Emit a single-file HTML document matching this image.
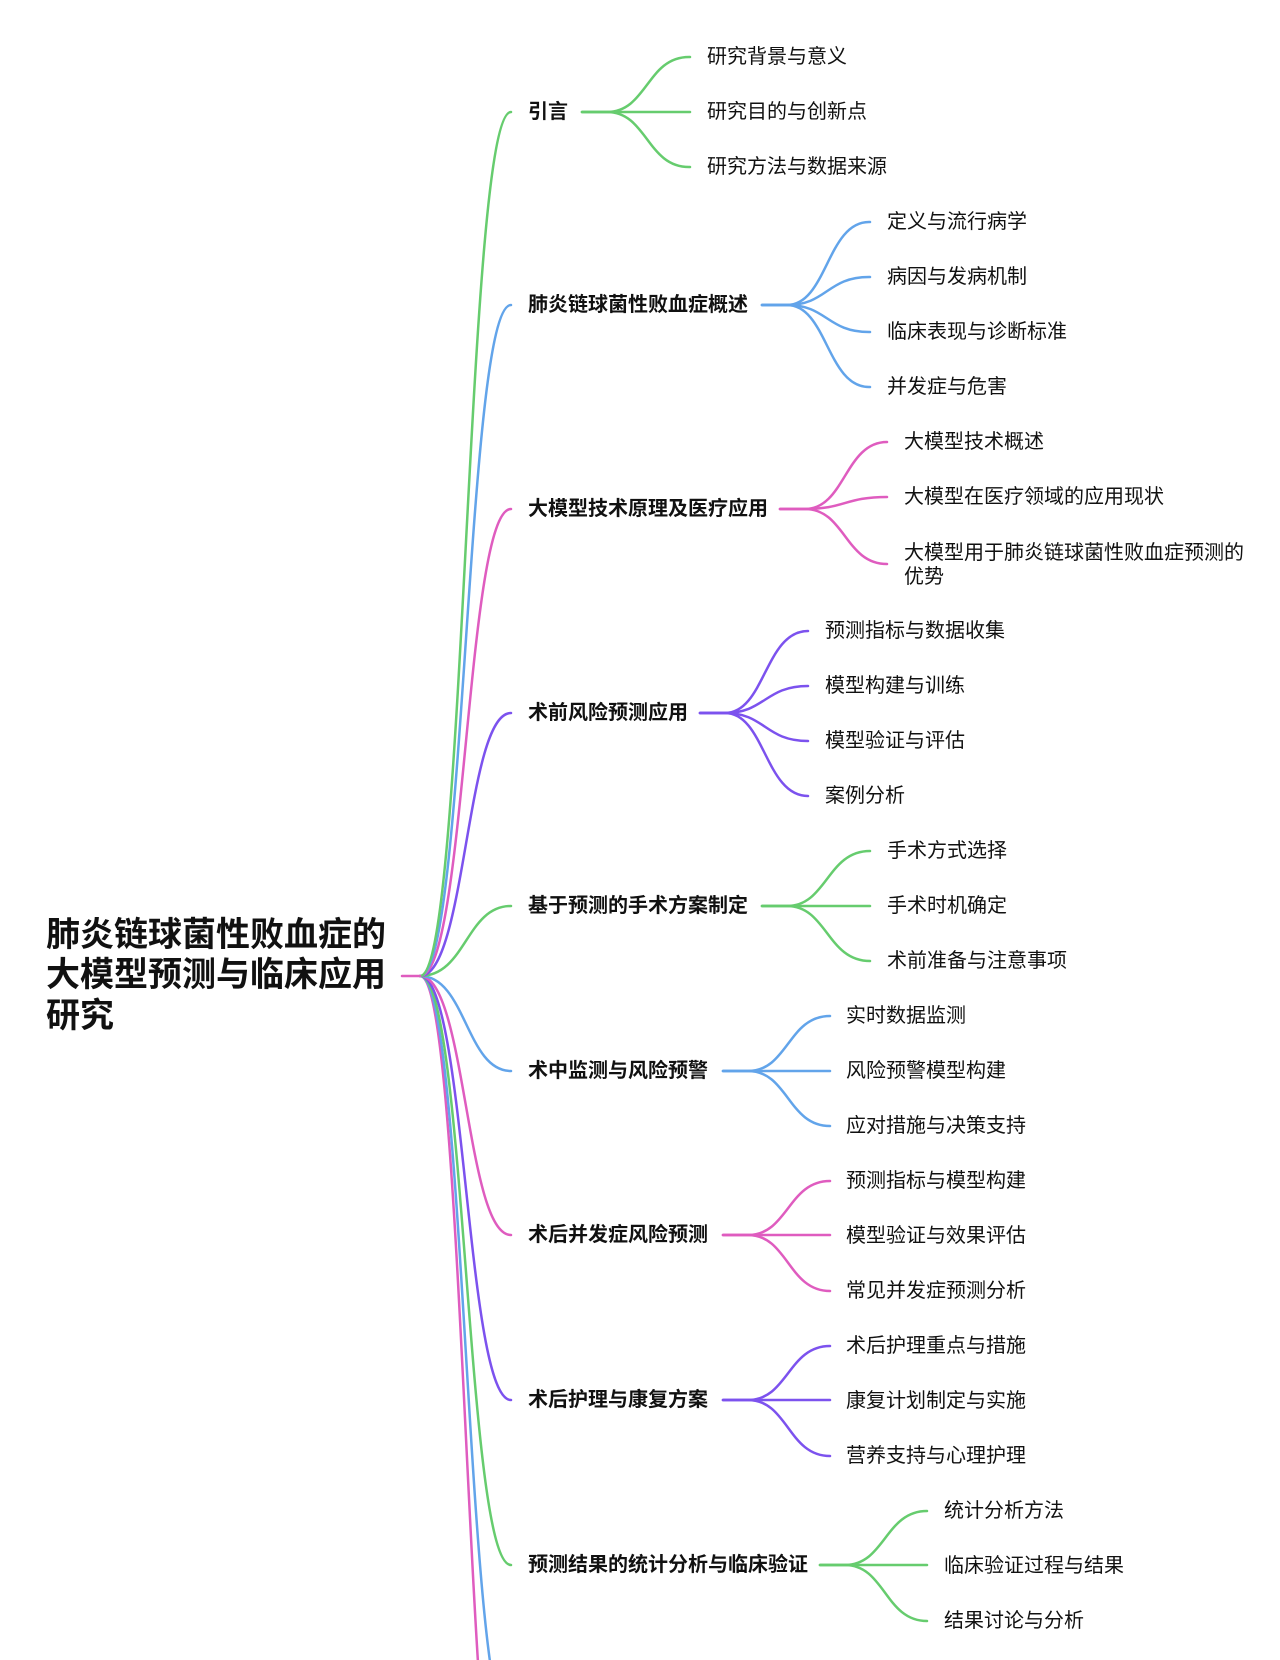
<!DOCTYPE html>
<html><head><meta charset="utf-8"><style>
html,body{margin:0;padding:0;background:#fff;width:1280px;height:1660px;overflow:hidden}
svg{display:block}
text{font-family:"Liberation Sans","Noto Sans CJK SC",sans-serif;fill:#111;dominant-baseline:central}
.c{font-size:20px}
.b{font-size:20px;font-weight:bold}
.r{font-size:34px;font-weight:bold}
path{fill:none;stroke-width:2.5;stroke-linecap:round}
.g{stroke:#66cc6e}.bl{stroke:#62a4ea}.p{stroke:#df5cbf}.pu{stroke:#7c52ee}
</style></head><body>
<svg width="1280" height="1660" viewBox="0 0 1280 1660" xmlns="http://www.w3.org/2000/svg">
<path class="p" d="M420,976 C466,976 466,1895 511,1895"/>
<path class="bl" d="M420,976 C466,976 466,1730 511,1730"/>
<path class="g" d="M420,976 C466,976 466,1565 511,1565"/>
<path class="pu" d="M420,976 C466,976 466,1400 511,1400"/>
<path class="p" d="M420,976 C466,976 466,1235 511,1235"/>
<path class="bl" d="M420,976 C466,976 466,1071 511,1071"/>
<path class="g" d="M420,976 C466,976 466,906 511,906"/>
<path class="pu" d="M420,976 C466,976 466,713 511,713"/>
<path class="p" d="M420,976 C466,976 466,509 511,509"/>
<path class="bl" d="M420,976 C466,976 466,305 511,305"/>
<path class="g" d="M420,976 C466,976 466,112 511,112"/>
<path class="p" d="M402,976 L420,976"/>

<text class="r" x="46" y="935">肺炎链球菌性败血症的</text>
<text class="r" x="46" y="975">大模型预测与临床应用</text>
<text class="r" x="46" y="1016">研究</text>

<text class="b" x="528" y="112">引言</text>
<path class="g" d="M582,112 L607,112 C647,112 647,57 689,57 L690,57"/>
<path class="g" d="M582,112 L690,112"/>
<path class="g" d="M582,112 L607,112 C647,112 647,167 689,167 L690,167"/>
<text class="c" x="707" y="57">研究背景与意义</text>
<text class="c" x="707" y="112">研究目的与创新点</text>
<text class="c" x="707" y="167">研究方法与数据来源</text>

<text class="b" x="528" y="305">肺炎链球菌性败血症概述</text>
<path class="bl" d="M762,305 L787,305 C827,305 827,222 869,222 L870,222"/>
<path class="bl" d="M762,305 L787,305 C827,305 827,277 869,277 L870,277"/>
<path class="bl" d="M762,305 L787,305 C827,305 827,332 869,332 L870,332"/>
<path class="bl" d="M762,305 L787,305 C827,305 827,387 869,387 L870,387"/>
<text class="c" x="887" y="222">定义与流行病学</text>
<text class="c" x="887" y="277">病因与发病机制</text>
<text class="c" x="887" y="332">临床表现与诊断标准</text>
<text class="c" x="887" y="387">并发症与危害</text>

<text class="b" x="528" y="509">大模型技术原理及医疗应用</text>
<path class="p" d="M780,509 L805,509 C845,509 845,442 887,442"/>
<path class="p" d="M780,509 L805,509 C845,509 845,497 887,497"/>
<path class="p" d="M780,509 L805,509 C845,509 845,564 887,564"/>
<text class="c" x="904" y="442">大模型技术概述</text>
<text class="c" x="904" y="497">大模型在医疗领域的应用现状</text>
<text class="c" x="904" y="553">大模型用于肺炎链球菌性败血症预测的</text>
<text class="c" x="904" y="577">优势</text>

<text class="b" x="528" y="713">术前风险预测应用</text>
<path class="pu" d="M700,713 L725,713 C765,713 765,631 808,631"/>
<path class="pu" d="M700,713 L725,713 C765,713 765,686 808,686"/>
<path class="pu" d="M700,713 L725,713 C765,713 765,741 808,741"/>
<path class="pu" d="M700,713 L725,713 C765,713 765,796 808,796"/>
<text class="c" x="825" y="631">预测指标与数据收集</text>
<text class="c" x="825" y="686">模型构建与训练</text>
<text class="c" x="825" y="741">模型验证与评估</text>
<text class="c" x="825" y="796">案例分析</text>

<text class="b" x="528" y="906">基于预测的手术方案制定</text>
<path class="g" d="M762,906 L787,906 C827,906 827,851 870,851"/>
<path class="g" d="M762,906 L870,906"/>
<path class="g" d="M762,906 L787,906 C827,906 827,961 870,961"/>
<text class="c" x="887" y="851">手术方式选择</text>
<text class="c" x="887" y="906">手术时机确定</text>
<text class="c" x="887" y="961">术前准备与注意事项</text>

<text class="b" x="528" y="1071">术中监测与风险预警</text>
<path class="bl" d="M723,1071 L748,1071 C788,1071 788,1016 830,1016"/>
<path class="bl" d="M723,1071 L830,1071"/>
<path class="bl" d="M723,1071 L748,1071 C788,1071 788,1126 830,1126"/>
<text class="c" x="846" y="1016">实时数据监测</text>
<text class="c" x="846" y="1071">风险预警模型构建</text>
<text class="c" x="846" y="1126">应对措施与决策支持</text>

<text class="b" x="528" y="1235">术后并发症风险预测</text>
<path class="p" d="M723,1235 L748,1235 C788,1235 788,1181 830,1181"/>
<path class="p" d="M723,1235 L830,1235"/>
<path class="p" d="M723,1235 L748,1235 C788,1235 788,1291 830,1291"/>
<text class="c" x="846" y="1181">预测指标与模型构建</text>
<text class="c" x="846" y="1236">模型验证与效果评估</text>
<text class="c" x="846" y="1291">常见并发症预测分析</text>

<text class="b" x="528" y="1400">术后护理与康复方案</text>
<path class="pu" d="M723,1400 L748,1400 C788,1400 788,1346 830,1346"/>
<path class="pu" d="M723,1400 L830,1400"/>
<path class="pu" d="M723,1400 L748,1400 C788,1400 788,1456 830,1456"/>
<text class="c" x="846" y="1346">术后护理重点与措施</text>
<text class="c" x="846" y="1401">康复计划制定与实施</text>
<text class="c" x="846" y="1456">营养支持与心理护理</text>

<text class="b" x="528" y="1565">预测结果的统计分析与临床验证</text>
<path class="g" d="M820,1565 L845,1565 C885,1565 885,1511 927,1511"/>
<path class="g" d="M820,1565 L927,1565"/>
<path class="g" d="M820,1565 L845,1565 C885,1565 885,1621 927,1621"/>
<text class="c" x="944" y="1511">统计分析方法</text>
<text class="c" x="944" y="1566">临床验证过程与结果</text>
<text class="c" x="944" y="1621">结果讨论与分析</text>
</svg>
</body></html>
